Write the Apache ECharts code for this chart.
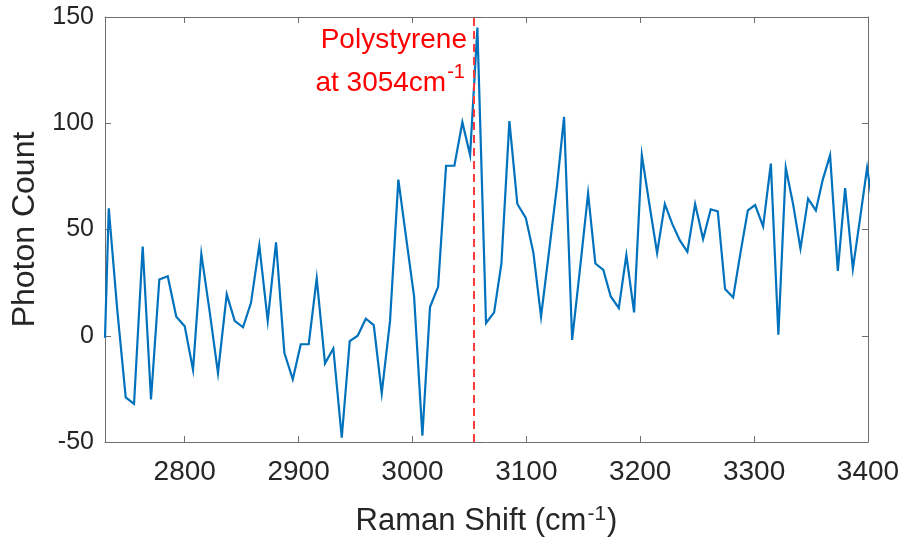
<!DOCTYPE html>
<html>
<head>
<meta charset="utf-8">
<script src="https://cdn.jsdelivr.net/npm/echarts@6/dist/echarts.min.js"></script>
<style>
  html, body { margin: 0; padding: 0; background: #ffffff; }
  #chart { width: 902px; height: 539px; }
</style>
</head>
<body>
<div id="chart"></div>
<script>
// Raman spectrum: shift (cm^-1) and detected photon counts
const ramanShift = [
  2730.0, 2733.3, 2740.8, 2748.2, 2755.5, 2763.1, 2770.4, 2777.7, 2785.1, 2792.6,
  2800.0, 2807.3, 2814.6, 2822.0, 2829.2, 2836.9, 2843.9, 2851.2, 2858.2, 2865.5,
  2872.9, 2880.2, 2887.5, 2894.9, 2901.9, 2908.9, 2915.9, 2923.2, 2930.5, 2937.9,
  2944.9, 2951.9, 2959.0, 2966.0, 2973.0, 2980.3, 2987.6, 2994.6, 3001.4, 3008.7,
  3015.4, 3022.5, 3029.5, 3036.8, 3043.8, 3050.6, 3057.0, 3064.6, 3071.7, 3078.1,
  3085.1, 3092.1, 3099.5, 3106.2, 3112.9, 3120.0, 3127.0, 3133.1, 3140.2, 3147.2,
  3154.2, 3160.6, 3167.6, 3174.1, 3181.2, 3187.8, 3194.6, 3201.4, 3208.0, 3214.8,
  3221.6, 3228.2, 3234.7, 3241.4, 3248.2, 3255.2, 3261.9, 3268.1, 3274.5, 3281.6,
  3288.0, 3294.5, 3300.9, 3307.9, 3314.7, 3321.3, 3327.8, 3334.2, 3340.7, 3347.4,
  3354.2, 3360.3, 3366.7, 3373.5, 3379.9, 3386.7, 3393.1, 3399.2, 3406.0
];
const photonCount = [
  -1, 60, 12, -29, -32, 42, -30, 26.5, 28, 9,
  4.5, -16, 38.5, 11, -17.5, 19.5, 7, 4, 15.5, 42.5,
  7, 44, -8, -20.5, -4, -4, 27, -13, -6, -48,
  -2.5, 0, 8, 5, -27, 7, 73.5, 45.5, 18.5, -47,
  13.5, 23, 80, 80, 100.5, 85, 145, 6, 11, 34,
  101, 62, 55.5, 39, 9, 40, 71, 103, -2, 32,
  67, 34, 31, 18.5, 13, 38, 11, 85, 62, 39,
  62, 52.5, 45, 39.5, 62, 45.5, 59.5, 58.5, 22, 18,
  39, 59, 61.5, 51.5, 81, 0.5, 79, 62, 41, 64.5,
  59, 73.5, 85, 30.5, 69.5, 31.5, 55.5, 79, 55
];
const xTicks = [2800, 2900, 3000, 3100, 3200, 3300, 3400];
const yTicks = [-50, 0, 50, 100, 150];
const peakShift = 3054;
const peakLabel = ['Polystyrene', 'at ' + peakShift + 'cm', '-1'];

const xRange = [2730, 3400];
const yRange = [-50, 150];

const frameColor = '#6e6e6e';
const textColor = '#262626';
const fontFamily = '"Liberation Sans", Arial, Helvetica, sans-serif';

const chart = echarts.init(document.getElementById('chart'), null, { renderer: 'canvas' });

const points = ramanShift.map((x, i) => [x, photonCount[i]]);
const plain = v => String(v);

function frameAxis(extra, tickValues) {
  return Object.assign({
    type: 'value',
    axisLine: { show: true, onZero: false, lineStyle: { color: frameColor, width: 1 } },
    axisTick: { show: true, inside: true, length: 6, customValues: tickValues, lineStyle: { color: frameColor, width: 1 } },
    splitLine: { show: false },
    axisLabel: { show: false }
  }, extra);
}

chart.setOption({
  animation: false,
  backgroundColor: '#ffffff',
  grid: { left: 105, right: 34, top: 17, bottom: 97, containLabel: false, outerBoundsMode: 'none' },
  xAxis: [
    frameAxis({
      position: 'bottom',
      min: xRange[0], max: xRange[1],
      axisLabel: {
        show: true, customValues: xTicks, margin: 16, formatter: plain,
        color: textColor, fontSize: 28, fontFamily: fontFamily
      },
      name: '{t|Raman Shift (cm}{s|-1}{t|)}',
      nameLocation: 'middle',
      nameGap: 62,
      nameTextStyle: {
        color: textColor, fontFamily: fontFamily,
        rich: {
          t: { fontSize: 31, color: textColor, fontFamily: fontFamily },
          s: { fontSize: 21, color: textColor, fontFamily: fontFamily, verticalAlign: 'top', padding: [0, 1, 14, 1] }
        }
      }
    }, xTicks),
    frameAxis({
      position: 'top',
      min: xRange[0], max: xRange[1]
    }, xTicks)
  ],
  yAxis: [
    frameAxis({
      position: 'left',
      min: yRange[0], max: yRange[1], interval: 50,
      axisLabel: {
        show: true, margin: 11, customValues: yTicks, formatter: plain,
        color: textColor, fontSize: 25, fontFamily: fontFamily
      },
      name: 'Photon Count',
      nameLocation: 'middle',
      nameGap: 57,
      nameRotate: 90,
      nameTextStyle: { color: textColor, fontSize: 32, fontFamily: fontFamily }
    }, yTicks),
    frameAxis({
      position: 'right',
      min: yRange[0], max: yRange[1], interval: 50
    }, yTicks)
  ],
  series: [
    {
      type: 'line',
      data: points,
      xAxisIndex: 0,
      yAxisIndex: 0,
      showSymbol: false,
      symbol: 'none',
      clip: true,
      lineStyle: { color: '#0072BD', width: 2.2, join: 'miter' },
      z: 3,
      markLine: {
        silent: true,
        symbol: ['none', 'none'],
        label: { show: false },
        lineStyle: { color: '#ff3b3b', width: 2, type: [8, 5] },
        data: [{ xAxis: peakShift }],
        z: 4
      }
    }
  ]
});

// Annotation beside the dashed marker, right-aligned just left of it
const anchor = chart.convertToPixel({ xAxisIndex: 0, yAxisIndex: 0 }, [peakShift, yRange[1]]);
chart.setOption({
  graphic: [{
    type: 'text',
    x: anchor[0] - 7,
    y: anchor[1] + 2,
    z: 10,
    style: {
      text: '{a|' + peakLabel[0] + '}\n{a|' + peakLabel[1] + '}{s|' + peakLabel[2] + '}',
      align: 'right',
      verticalAlign: 'top',
      rich: {
        a: { fontSize: 28, lineHeight: 43, fill: '#ff0000', fontFamily: fontFamily },
        s: { fontSize: 20, lineHeight: 43, fill: '#ff0000', fontFamily: fontFamily, verticalAlign: 'top', padding: [0, 2, 14, 1] }
      }
    }
  }]
});
</script>
</body>
</html>
